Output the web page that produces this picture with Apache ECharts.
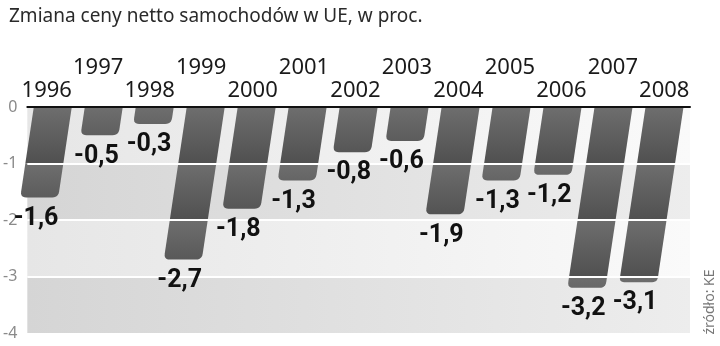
<!DOCTYPE html>
<html>
<head>
<meta charset="utf-8">
<script src="https://cdn.jsdelivr.net/npm/echarts@6/dist/echarts.min.js"></script>
<style>html,body{margin:0;padding:0;background:#fff}#c{width:720px;height:346px}</style>
</head>
<body>
<div id="c"></div>
<script>
const titleText = 'Zmiana ceny netto samochodów w UE, w proc.';
const sourceText = 'źródło: KE';
const years = ['1996','1997','1998','1999','2000','2001','2002','2003','2004','2005','2006','2007','2008'];
const values = [-1.6, -0.5, -0.3, -2.7, -1.8, -1.3, -0.8, -0.6, -1.9, -1.3, -1.2, -3.2, -3.1];
const yTicks = [0, -1, -2, -3, -4];

const chart = echarts.init(document.getElementById('c'), null, {renderer: 'canvas'});
const SLOPE = 0.15;
const LABEL_OFF = 21;

function quad(p0, c, p1, n) {
  const pts = [];
  for (let i = 0; i <= n; i++) {
    const t = i / n;
    pts.push([
      (1-t)*(1-t)*p0[0] + 2*(1-t)*t*c[0] + t*t*p1[0],
      (1-t)*(1-t)*p0[1] + 2*(1-t)*t*c[1] + t*t*p1[1]
    ]);
  }
  return pts;
}

function renderBar(params, api) {
  const idx = api.value(0);
  const val = api.value(1);
  const top = api.coord([idx, 0]);
  const cx = top[0];
  const y0 = top[1];
  const bw = api.size([1, 0])[0] * 0.745;
  const dx = y => -SLOPE * (y - y0);
  const children = [];
  let a = 0;
  while (a > val + 1e-9) {
    const b = Math.max(a - 1, val);
    const ya = api.coord([idx, a])[1];
    const yb = api.coord([idx, b])[1];
    const yBand = api.coord([idx, a - 1])[1];
    const last = Math.abs(b - val) < 1e-9;
    const xlA = cx - bw/2 + dx(ya), xrA = cx + bw/2 + dx(ya);
    const xlB = cx - bw/2 + dx(yb), xrB = cx + bw/2 + dx(yb);
    let pts;
    const r = Math.min(6, (yb - ya) * 0.9);
    if (last && r > 1) {
      pts = [[xlA, ya], [xrA, ya]];
      pts = pts.concat(quad([xrB + SLOPE*r, yb - r], [xrB, yb], [xrB - r, yb], 6));
      pts = pts.concat(quad([xlB + r, yb], [xlB, yb], [xlB + SLOPE*r, yb - r], 6));
    } else {
      pts = [[xlA, ya], [xrA, ya], [xrB, yb], [xlB, yb]];
    }
    children.push({
      type: 'polygon',
      shape: {points: pts},
      style: {
        fill: new echarts.graphic.LinearGradient(0, ya, 0, yBand, [
          {offset: 0, color: '#6e6e6e'},
          {offset: 1, color: '#505050'}
        ], true)
      }
    });
    a = b;
  }
  return {type: 'group', children};
}

function renderLabel(params, api) {
  const idx = api.value(0);
  const val = api.value(1);
  const top = api.coord([idx, 0]);
  const yb = api.coord([idx, val])[1];
  const y = yb + LABEL_OFF;
  return {
    type: 'text',
    x: top[0] - SLOPE * (y - top[1]),
    y: y,
    style: {
      text: String(val).replace('.', ','),
      fill: '#111',
      font: 'bold 25px Roboto, "Liberation Sans", sans-serif',
      align: 'center',
      verticalAlign: 'middle'
    }
  };
}

const option = {
  animation: false,
  backgroundColor: '#fff',
  title: {
    text: titleText,
    left: 4, top: 2,
    textStyle: {fontFamily: '"Noto Sans"', fontSize: 19, fontWeight: 'normal', color: '#2a2a2a'}
  },
  graphic: [{
    type: 'text',
    x: 710, y: 302,
    rotation: Math.PI / 2,
    style: {
      text: sourceText,
      font: '14px "Noto Sans"',
      fill: '#777',
      align: 'center',
      verticalAlign: 'middle'
    }
  }],
  grid: [
    {left: 27, right: 30, top: 107, bottom: 13, containLabel: false},
    {left: 21, right: 30, top: 107, bottom: 13, containLabel: false}
  ],
  xAxis: [{
    type: 'category',
    data: years,
    position: 'top',
    gridIndex: 0,
    z: 12,
    axisLine: {show: true, lineStyle: {color: '#111', width: 2}},
    axisTick: {show: false},
    splitLine: {show: false},
    axisLabel: {show: false}
  }, {
    type: 'category',
    data: years,
    position: 'top',
    gridIndex: 1,
    axisLine: {show: false},
    axisTick: {show: false},
    splitLine: {show: false},
    axisLabel: {
      interval: 0,
      margin: 5,
      fontFamily: '"Noto Sans"',
      fontSize: 22,
      color: '#1a1a1a',
      lineHeight: 23,
      formatter: (v, i) => (i % 2 ? v + '\n ' : v)
    }
  }],
  yAxis: [{
    type: 'value',
    gridIndex: 0,
    min: -4, max: 0, interval: 1,
    axisLine: {show: false},
    axisTick: {show: false},
    splitLine: {show: false},
    splitArea: {
      show: true,
      areaStyle: {
        color: [
          new echarts.graphic.LinearGradient(0, 0, 1, 0, [{offset: 0, color: '#d5d5d5'}, {offset: 1, color: '#ededed'}]),
          new echarts.graphic.LinearGradient(0, 0, 1, 0, [{offset: 0, color: '#e6e6e6'}, {offset: 1, color: '#fafafa'}])
        ]
      }
    },
    axisLabel: {
      margin: 10,
      color: '#8a8a8a',
      fontFamily: '"Noto Sans"',
      fontSize: 16,
      padding: [10, 0, 0, 0],
      formatter: v => String(v)
    }
  }, {
    type: 'value',
    gridIndex: 0,
    min: -4, max: 0, interval: 1,
    z: 10,
    axisLine: {show: false},
    axisTick: {show: false},
    axisLabel: {show: false},
    splitLine: {show: true, showMinLine: false, showMaxLine: false, lineStyle: {color: '#ffffff', width: 2}}
  }, {
    type: 'value',
    gridIndex: 1,
    min: -4, max: 0, interval: 1,
    show: false
  }],
  series: [{
    type: 'custom',
    renderItem: renderBar,
    xAxisIndex: 0, yAxisIndex: 0,
    data: values.map((v, i) => [i, v]),
    encode: {x: 0, y: 1},
    clip: false,
    z: 3
  }, {
    type: 'custom',
    renderItem: renderLabel,
    xAxisIndex: 0, yAxisIndex: 0,
    data: values.map((v, i) => [i, v]),
    encode: {x: 0, y: 1},
    clip: false,
    z: 20
  }]
};
chart.setOption(option);
</script>
</body>
</html>
